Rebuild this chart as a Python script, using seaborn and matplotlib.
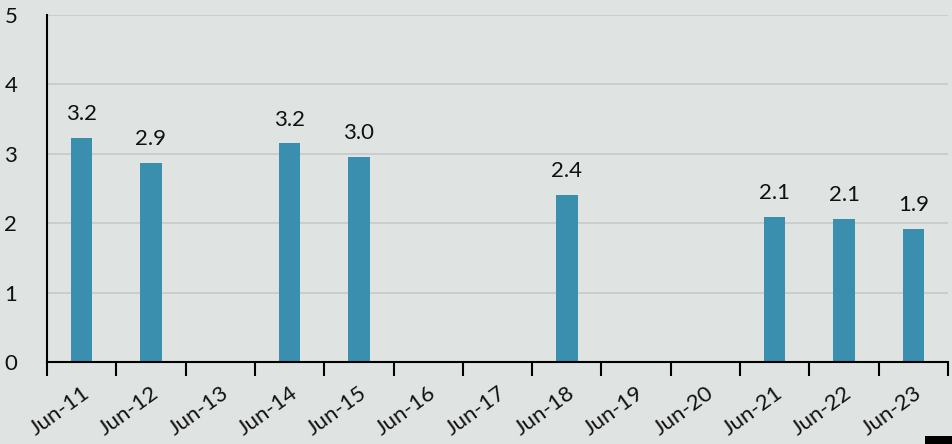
import matplotlib
matplotlib.use("Agg")
import matplotlib.pyplot as plt
import seaborn as sns
import pandas as pd
from matplotlib.patches import Rectangle

# datos
categorias = ["Jun-11", "Jun-12", "Jun-13", "Jun-14", "Jun-15", "Jun-16", "Jun-17",
              "Jun-18", "Jun-19", "Jun-20", "Jun-21", "Jun-22", "Jun-23"]
valores = [3.23, 2.87, 0, 3.15, 2.96, 0, 0, 2.41, 0, 0, 2.09, 2.06, 1.92]
etiquetas = ["3.2", "2.9", "", "3.2", "3.0", "", "", "2.4", "", "", "2.1", "2.1", "1.9"]

BG = "#dfe3e2"
BAR = "#3a8fae"

sns.set_style("white")
plt.rcParams["font.family"] = ["Lato", "DejaVu Sans"]

df = pd.DataFrame({"cat": categorias, "val": valores})

fig = plt.figure(figsize=(9.53, 4.44), dpi=100, facecolor=BG)
ax = fig.add_axes([47 / 953, 1 - 362 / 444, (948 - 47) / 953, (362 - 15) / 444])
ax.set_facecolor(BG)

sns.barplot(data=df, x="cat", y="val", color=BAR, width=0.31, saturation=1,
            linewidth=0, ax=ax)

ax.bar_label(ax.containers[0], labels=etiquetas, padding=10, fontsize=16, color="#111111")

ax.set_ylim(0, 5)
ax.set_xlim(-0.5, len(categorias) - 0.5)
ax.set_yticks(range(6))
ax.yaxis.grid(True, color="#c5c9c8", linewidth=1.2)
ax.set_axisbelow(True)

for s in ["top", "right"]:
    ax.spines[s].set_visible(False)
ax.spines["left"].set_color("black")
ax.spines["left"].set_linewidth(1.5)
ax.spines["bottom"].set_color("black")
ax.spines["bottom"].set_linewidth(1.5)

ax.set_xlabel("")
ax.set_ylabel("")
ax.tick_params(axis="y", length=0, pad=26, labelsize=16, labelcolor="#111111")
ax.set_xticks(range(len(categorias)))
ax.set_xticklabels(categorias, rotation=36, ha="right", rotation_mode="anchor",
                   fontsize=16, color="#111111")
ax.set_xticks([i - 0.5 for i in range(len(categorias) + 1)], minor=True)
ax.tick_params(axis="x", which="major", bottom=True, length=0, pad=15)
ax.tick_params(axis="x", which="minor", bottom=True, length=10, width=1.5,
               color="black", direction="out")
for lbl in ax.get_yticklabels():
    lbl.set_horizontalalignment("center")

fig.patches.append(Rectangle((925 / 953, 0), 28 / 953, 8 / 444, transform=fig.transFigure,
                             facecolor="black", edgecolor="none"))

fig.savefig("out.png", dpi=100, facecolor=BG)
